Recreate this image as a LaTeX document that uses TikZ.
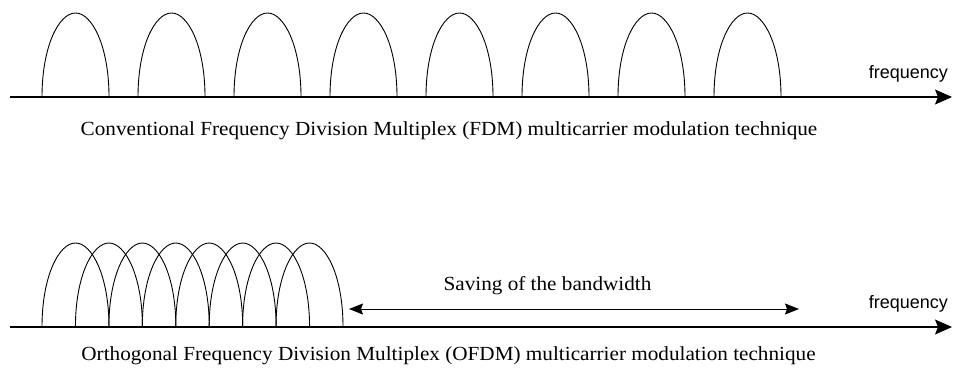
\documentclass[tikz,border=0pt]{standalone}
\usepackage{fontspec}
\setmainfont{Liberation Serif}
\newfontfamily\arialfont{Liberation Sans}
\usetikzlibrary{arrows.meta}
\newcommand{\widetext}[1]{\scalebox{1.06}[1]{#1}}
\begin{document}
\begin{tikzpicture}[x=1pt,y=-1pt,
  axis/.style={line width=1.1pt, -{Stealth[length=17pt,width=15pt,inset=3pt]}},
  span/.style={line width=0.9pt, {Stealth[length=14pt,width=11pt,inset=2pt]}-{Stealth[length=14pt,width=11pt,inset=2pt]}},
  arch/.style={line width=0.9pt},
  captext/.style={font=\fontsize{20}{22}\selectfont, anchor=base, inner sep=0pt},
  freq/.style={font=\arialfont\fontsize{18}{20}\selectfont, anchor=base east, inner sep=0pt},
]
\useasboundingbox (0,0) rectangle (954,370);
% top: FDM
\coordinate (a1s) at (10,97);
\coordinate (a1e) at (952,97);
\draw[axis] (a1s) -- (a1e);
\foreach \i in {0,...,7} {
  \pgfmathsetmacro\xa{42+96*\i}
  \draw[arch] (\xa,97) .. controls (\xa,46) and (\xa+17,13) .. (\xa+33.5,13)
     .. controls (\xa+50,13) and (\xa+67,46) .. (\xa+67,97);
}
\node[freq] (f1) at (948,78) {frequency};
\node[captext] (c1) at (449,135) {\widetext{Conventional Frequency Division Multiplex (FDM) multicarrier modulation technique}};
% bottom: OFDM
\coordinate (a2s) at (10,327);
\coordinate (a2e) at (952,327);
\draw[axis] (a2s) -- (a2e);
\foreach \i in {0,...,7} {
  \pgfmathsetmacro\xa{42+33.43*\i}
  \draw[arch] (\xa,327) .. controls (\xa,276) and (\xa+17,243) .. (\xa+33.5,243)
     .. controls (\xa+50,243) and (\xa+67,276) .. (\xa+67,327);
}
\coordinate (s1) at (349,309);
\coordinate (s2) at (799,309);
\draw[span] (s1) -- (s2);
\node[captext] (sv) at (547.5,290) {\widetext{Saving of the bandwidth}};
\node[freq] (f2) at (948,308) {frequency};
\node[captext] (c2) at (448.5,360) {\widetext{Orthogonal Frequency Division Multiplex (OFDM) multicarrier modulation technique}};
\end{tikzpicture}
\end{document}
